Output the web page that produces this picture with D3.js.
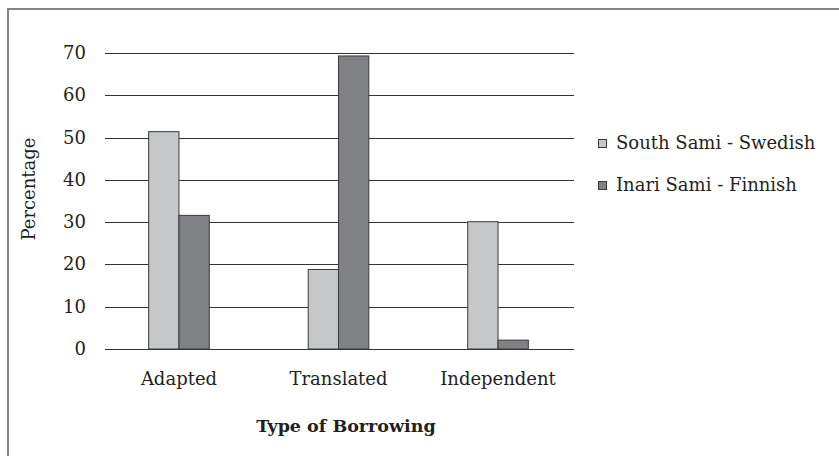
<!DOCTYPE html>
<html>
<head>
<meta charset="utf-8">
<script src="https://cdn.jsdelivr.net/npm/d3@7"></script>
<style>
  body { margin: 0; background: #fff; }
  svg { display: block; font-family: "DejaVu Serif", serif; }
</style>
</head>
<body>
<svg id="chart"></svg>
<script>
const W = 839, H = 456;

// data
const categories = ["Adapted", "Translated", "Independent"];
const seriesNames = ["South Sami - Swedish", "Inari Sami - Finnish"];
const southSami = [51.4, 18.8, 30.1];
const inariSami = [31.6, 69.3, 2.1];
const yTicks = [0, 10, 20, 30, 40, 50, 60, 70];

const fills = ["#c6c7c9", "#808184"];

const svg = d3.select("#chart").attr("width", W).attr("height", H);

// outer frame (runs off the right / bottom edge)
svg.append("rect")
  .attr("x", 8).attr("y", 9)
  .attr("width", 900).attr("height", 500)
  .attr("fill", "none")
  .attr("stroke", "#666")
  .attr("stroke-width", 1.6);

const plotL = 105, plotR = 574, plotT = 53, plotB = 349;

const x0 = d3.scaleBand().domain(categories).range([plotL - 1, plotR - 1])
  .paddingInner(0.62).paddingOuter(0.28);
const x1 = d3.scaleBand().domain(seriesNames).range([0, x0.bandwidth()]);
const y = d3.scaleLinear().domain([0, 70]).range([plotB, plotT]);

// gridlines
svg.append("g")
  .selectAll("line")
  .data(yTicks)
  .join("line")
    .attr("x1", plotL).attr("x2", plotR)
    .attr("y1", d => Math.round(y(d)) + 0.5)
    .attr("y2", d => Math.round(y(d)) + 0.5)
    .attr("stroke", "#333")
    .attr("stroke-width", 1.2);

// y tick labels
svg.append("g")
  .selectAll("text")
  .data(yTicks)
  .join("text")
    .attr("x", 86)
    .attr("y", d => y(d) + 6)
    .attr("text-anchor", "end")
    .attr("fill", "#231f20")
    .style("font-size", "18px")
    .text(d => d);

// bars
const rows = categories.map((c, i) => ({
  cat: c,
  values: [
    { s: seriesNames[0], v: southSami[i] },
    { s: seriesNames[1], v: inariSami[i] }
  ]
}));

const groups = svg.append("g")
  .selectAll("g")
  .data(rows)
  .join("g")
    .attr("transform", d => `translate(${x0(d.cat)},0)`);

groups.selectAll("rect")
  .data(d => d.values)
  .join("rect")
    .attr("x", d => x1(d.s))
    .attr("y", d => y(d.v))
    .attr("width", x1.bandwidth())
    .attr("height", d => y(0) - y(d.v))
    .attr("fill", (d, i) => fills[i])
    .attr("stroke", "#3a3a3a")
    .attr("stroke-width", 1);

// category labels
svg.append("g")
  .selectAll("text")
  .data(categories)
  .join("text")
    .attr("x", d => x0(d) + x0.bandwidth() / 2)
    .attr("y", 385)
    .attr("text-anchor", "middle")
    .attr("fill", "#231f20")
    .style("font-size", "18px")
    .text(d => d);

// axis titles
svg.append("text")
  .attr("x", 346)
  .attr("y", 432)
  .attr("text-anchor", "middle")
  .attr("fill", "#231f20")
  .style("font-size", "17.5px")
  .style("font-weight", "bold")
  .text("Type of Borrowing");

svg.append("text")
  .attr("transform", "translate(35,189) rotate(-90)")
  .attr("text-anchor", "middle")
  .attr("fill", "#231f20")
  .style("font-size", "18px")
  .text("Percentage");

// legend
const legend = svg.append("g")
  .selectAll("g")
  .data(seriesNames)
  .join("g")
    .attr("transform", (d, i) => `translate(598,${149 + i * 42})`);

legend.append("rect")
  .attr("x", 0.5).attr("y", -9.5)
  .attr("width", 8).attr("height", 8)
  .attr("fill", (d, i) => fills[i])
  .attr("stroke", "#3a3a3a")
  .attr("stroke-width", 1);

legend.append("text")
  .attr("x", 18)
  .attr("y", 0)
  .attr("fill", "#231f20")
  .style("font-size", "18px")
  .text(d => d);
</script>
</body>
</html>
